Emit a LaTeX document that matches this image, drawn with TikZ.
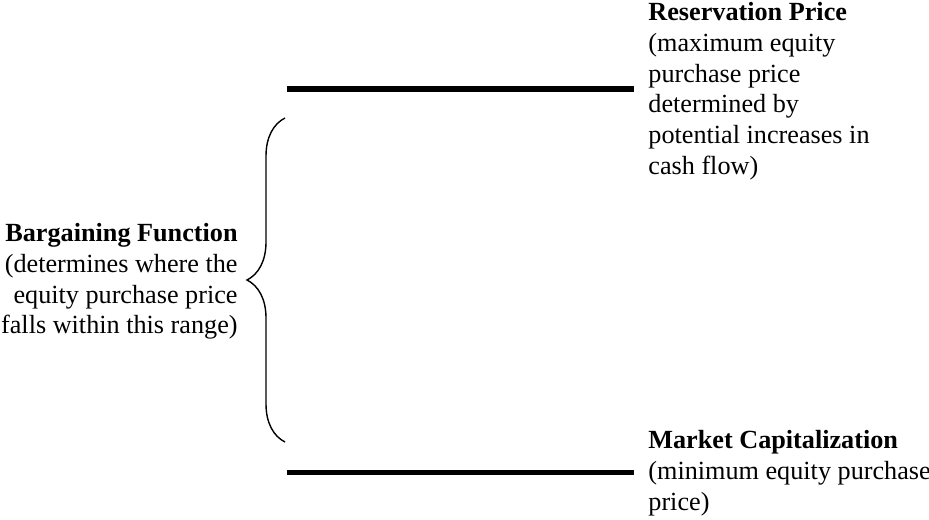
\documentclass[tikz,border=0pt]{standalone}
\usepackage{fontspec}
\setmainfont{Liberation Serif}
\usetikzlibrary{decorations.pathreplacing}

\begin{document}
\begin{tikzpicture}[x=0.5pt, y=-0.5pt,
  level/.style={line width=2.5pt},
  label/.style={inner sep=0pt, font=\fontsize{13.1}{15.4}\selectfont}]
  % Frame of the picture
  \useasboundingbox (0,0) rectangle (929,519);

  % Price levels
  \coordinate (resL) at (287,89);
  \coordinate (resR) at (634,89);
  \coordinate (mktL) at (287,472);
  \coordinate (mktR) at (634,472);
  \draw[level] (resL) -- (resR);
  \draw[level] (mktL) -- (mktR);

  % Range brace
  \coordinate (braceTop) at (285,118);
  \coordinate (braceBot) at (285,442);
  \draw[line width=0.7pt, decorate, decoration={brace, amplitude=19pt}]
    (braceBot) -- (braceTop);

  % Labels
  \node[label, anchor=north west, align=left] (res) at (648,2)
    {\textbf{Reservation Price}\\(maximum equity\\purchase price\\determined by\\potential increases in\\cash flow)};
  \node[label, anchor=north west, align=left] (mkt) at (648,430)
    {\textbf{Market Capitalization}\\(minimum equity purchase\\price)};
  \node[label, anchor=north east, align=right] (barg) at (238,223)
    {\textbf{Bargaining Function}\\(determines where the\\equity purchase price\\falls within this range)};
\end{tikzpicture}
\end{document}
